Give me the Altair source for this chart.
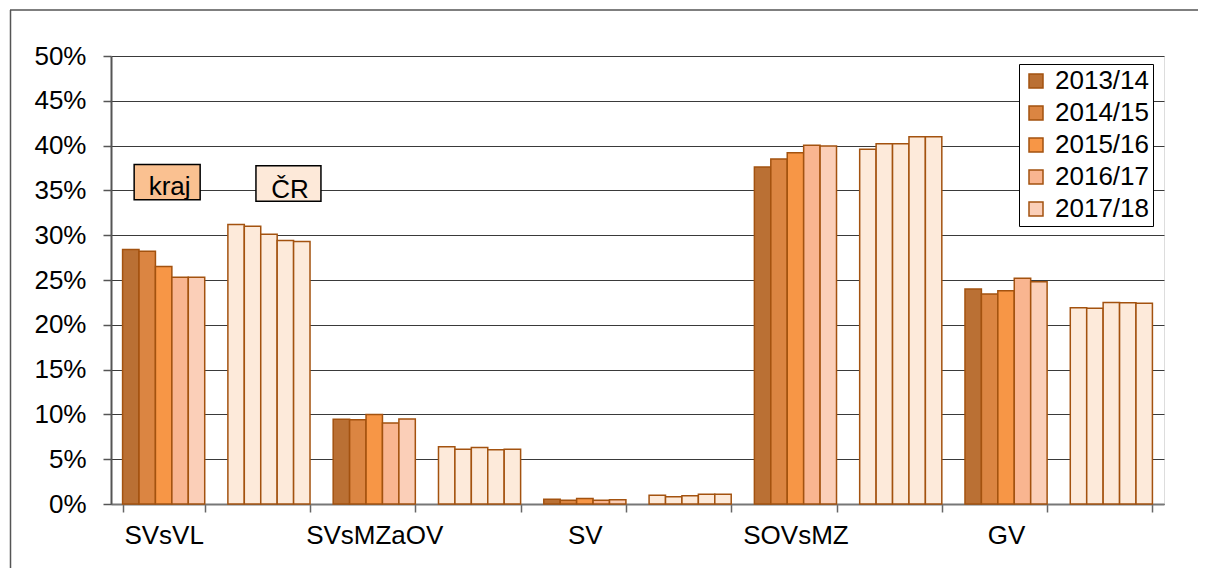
import altair as alt
import pandas as pd

categories = ["SVsVL", "SVsMZaOV", "SV", "SOVsMZ", "GV"]
areas = ["kraj", "ČR"]
years = ["2013/14", "2014/15", "2015/16", "2016/17", "2017/18"]

# shares in %, order of years
kraj_SVsVL = [28.4, 28.2, 26.5, 25.3, 25.3]
cr_SVsVL = [31.2, 31.0, 30.1, 29.4, 29.3]
kraj_SVsMZaOV = [9.45, 9.4, 10.0, 9.05, 9.5]
cr_SVsMZaOV = [6.4, 6.1, 6.3, 6.05, 6.1]
kraj_SV = [0.52, 0.42, 0.6, 0.42, 0.48]
cr_SV = [0.97, 0.82, 0.93, 1.08, 1.08]
kraj_SOVsMZ = [37.6, 38.5, 39.2, 40.05, 39.95]
cr_SOVsMZ = [39.6, 40.2, 40.2, 41.0, 41.0]
kraj_GV = [24.0, 23.45, 23.8, 25.2, 24.8]
cr_GV = [21.9, 21.85, 22.5, 22.45, 22.4]

year_colors = ["#BA7034", "#DB8542", "#F79646", "#F9B590", "#FBCFB8"]
cr_color = "#FDEADA"
edge = "#A3520F"

series = {
    ("SVsVL", "kraj"): kraj_SVsVL, ("SVsVL", "ČR"): cr_SVsVL,
    ("SVsMZaOV", "kraj"): kraj_SVsMZaOV, ("SVsMZaOV", "ČR"): cr_SVsMZaOV,
    ("SV", "kraj"): kraj_SV, ("SV", "ČR"): cr_SV,
    ("SOVsMZ", "kraj"): kraj_SOVsMZ, ("SOVsMZ", "ČR"): cr_SOVsMZ,
    ("GV", "kraj"): kraj_GV, ("GV", "ČR"): cr_GV,
}

groups = [f"{c}|{a}" for c in categories for a in areas]
rows = []
for c in categories:
    for a in areas:
        for y, v in zip(years, series[(c, a)]):
            rows.append({"group": f"{c}|{a}", "area": a, "year": y, "value": v})
df = pd.DataFrame(rows)

# annotation boxes ("kraj", "ČR")
ann = pd.DataFrame({
    "group": ["SVsVL|kraj", "SVsVL|ČR"],
    "label": ["kraj", "ČR"],
    "top": [37.9, 37.75],
    "bottom": [33.95, 33.8],
    "base": [34.5, 34.15],
})

FONT = "Liberation Sans"

xscale = alt.Scale(domain=groups, paddingInner=0.22, paddingOuter=0.11)
yscale = alt.Scale(domain=[0, 50])

x_enc = alt.X(
    "group:N", scale=xscale, title=None,
    axis=alt.Axis(
        labelExpr="indexof(datum.label, '|kraj') >= 0 ? split(datum.label, '|')[0] : ''",
        labelAngle=0, tickBand="extent", ticks=True, tickSize=8, labelPadding=10,
        labelFontSize=26, labelFont=FONT, labelColor="#000000",
        domainColor="#777777", domainWidth=2, tickColor="#666666", tickWidth=1.5,
        grid=False,
    ),
)
y_enc = alt.Y(
    "value:Q", scale=yscale, title=None,
    axis=alt.Axis(
        values=list(range(0, 55, 5)), labelExpr="datum.value + '%'",
        tickSize=8, labelPadding=17, labelFontSize=26, labelFont=FONT,
        labelColor="#000000", domainColor="#555555", domainWidth=2,
        tickColor="#555555", tickWidth=1.5,
        grid=True, gridColor="#3a3a3a", gridWidth=1,
    ),
)

kraj_bars = alt.Chart(df[df.area == "kraj"]).mark_bar(
    stroke=edge, strokeWidth=1.5
).encode(
    x=x_enc,
    xOffset=alt.XOffset("year:N", sort=years, scale=alt.Scale(paddingInner=0, paddingOuter=0)),
    y=y_enc,
    color=alt.Color(
        "year:N", sort=years,
        scale=alt.Scale(domain=years, range=year_colors),
        legend=alt.Legend(
            title=None, orient="none", legendX=908, legendY=8,
            labelFontSize=26, labelFont=FONT, labelColor="#000000",
            symbolType="square", symbolSize=196, symbolStrokeColor=edge,
            symbolStrokeWidth=1.5, labelOffset=6, rowPadding=6, padding=4,
            strokeColor="#000000", fillColor="#ffffff",
        ),
    ),
)

cr_bars = alt.Chart(df[df.area == "ČR"]).mark_bar(
    stroke=edge, strokeWidth=1.5, fill=cr_color
).encode(
    x=alt.X("group:N", scale=xscale),
    xOffset=alt.XOffset("year:N", sort=years),
    y=alt.Y("value:Q", scale=yscale),
)

box_kraj = alt.Chart(ann.iloc[[0]]).mark_bar(
    width=66, xOffset=3.5, stroke="#000000", strokeWidth=1.5, fill="#FAC191"
).encode(
    x=alt.X("group:N", scale=xscale),
    y=alt.Y("top:Q", scale=yscale), y2="bottom:Q",
)
box_cr = alt.Chart(ann.iloc[[1]]).mark_bar(
    width=65, xOffset=19.5, stroke="#000000", strokeWidth=1.5, fill="#FDE9D9"
).encode(
    x=alt.X("group:N", scale=xscale),
    y=alt.Y("top:Q", scale=yscale), y2="bottom:Q",
)
txt_kraj = alt.Chart(ann.iloc[[0]]).mark_text(
    fontSize=26, font=FONT, color="#000000", baseline="alphabetic", xOffset=6
).encode(
    x=alt.X("group:N", scale=xscale),
    y=alt.Y("base:Q", scale=yscale), text="label:N",
)
txt_cr = alt.Chart(ann.iloc[[1]]).mark_text(
    fontSize=26, font=FONT, color="#000000", baseline="alphabetic", xOffset=21
).encode(
    x=alt.X("group:N", scale=xscale),
    y=alt.Y("base:Q", scale=yscale), text="label:N",
)

frame_src = pd.DataFrame({"k": [0]})
frame_top = alt.Chart(frame_src).mark_rule(color="#555555", strokeWidth=1.5).encode(
    x=alt.value(-101), x2=alt.value(1087), y=alt.value(-46)
)
frame_left = alt.Chart(frame_src).mark_rule(color="#555555", strokeWidth=1.5).encode(
    x=alt.value(-100.5), y=alt.value(-46), y2=alt.value(530)
)

chart = alt.layer(
    frame_top, frame_left, kraj_bars, cr_bars, box_kraj, box_cr, txt_kraj, txt_cr
).properties(
    width=1053, height=448,
    autosize=alt.AutoSizeParams(type="none"),
    padding={"left": 103, "top": 48, "right": 34, "bottom": 64},
).configure_view(
    stroke="#8c8c8c", strokeWidth=2
).configure(
    background="#ffffff"
)

chart.save("out.html", embed_options={"renderer": "svg", "actions": False})
